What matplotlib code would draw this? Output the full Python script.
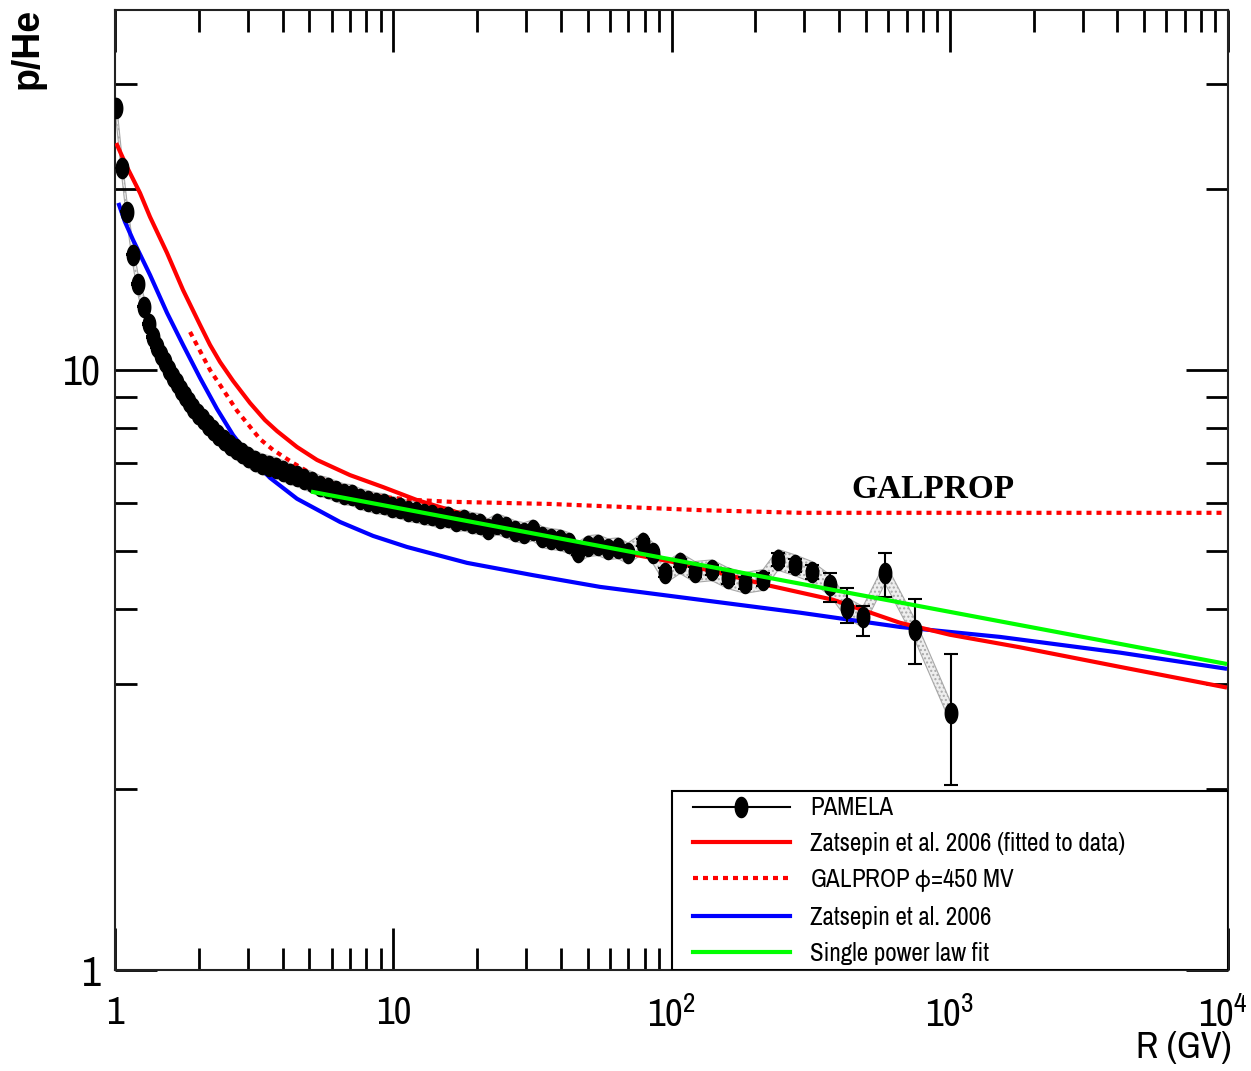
import numpy as np
import matplotlib
matplotlib.use("Agg")
import matplotlib.pyplot as plt
from matplotlib import font_manager as fm
from matplotlib.path import Path
from matplotlib.lines import Line2D
from matplotlib.patches import Rectangle
from matplotlib.transforms import ScaledTranslation
from matplotlib.ticker import FixedLocator, FixedFormatter, NullFormatter

# look for a narrow sans face, the original uses a squeezed Helvetica
narrow = [f.name for f in fm.fontManager.ttflist if 'Narrow' in f.name]
condensed = [f.name for f in fm.fontManager.ttflist if f.stretch == 'condensed']
if narrow:
    plt.rcParams['font.family'] = [narrow[0], 'DejaVu Sans']
    scale = 1.0
elif condensed:
    plt.rcParams['font.family'] = [condensed[0], 'DejaVu Sans']
    plt.rcParams['font.stretch'] = 'condensed'
    scale = 0.85
else:
    plt.rcParams['font.family'] = ['Liberation Sans', 'DejaVu Sans']
    scale = 0.8
plt.rcParams['mathtext.default'] = 'regular'

# PAMELA p/He ratio vs rigidity
pam_R = [1.008, 1.060, 1.104, 1.161, 1.209, 1.271, 1.325, 1.370, 1.416, 1.463,
         1.512, 1.564, 1.616, 1.671, 1.727, 1.785, 1.845, 1.907, 1.987, 2.072,
         2.159, 2.250, 2.345, 2.465, 2.590, 2.722, 2.860, 3.006, 3.185, 3.376,
         3.577, 3.790, 4.017, 4.256, 4.510, 4.778, 5.105, 5.455, 5.829, 6.226,
         6.653, 7.108, 7.595, 8.114, 8.670, 9.264, 9.897, 10.58, 11.30, 12.07,
         12.90, 13.78, 14.72, 15.74, 16.81, 17.96, 19.19, 20.50, 21.90, 23.60,
         25.42, 27.39, 29.51, 31.78, 34.24, 36.89, 39.75, 42.82, 46.13, 50.11,
         54.43, 59.14, 64.24, 69.79, 79.03, 85.82, 94.8, 107.3, 121.4, 139.8,
         159.6, 183.8, 213.3, 241.3, 277.8, 319.8, 371.2, 427.2, 487.8, 585.3,
         750.2, 1010.0]
pam_ratio = [27.34, 21.71, 18.34, 15.55, 13.91, 12.74, 11.93, 11.35, 10.92, 10.59,
             10.31, 10.00, 9.73, 9.51, 9.26, 9.05, 8.85, 8.65, 8.45, 8.29,
             8.10, 7.94, 7.79, 7.64, 7.50, 7.38, 7.27, 7.16, 7.05, 6.97,
             6.92, 6.87, 6.79, 6.71, 6.66, 6.58, 6.51, 6.41, 6.36, 6.28,
             6.21, 6.19, 6.10, 6.05, 6.00, 5.98, 5.91, 5.89, 5.82, 5.80,
             5.75, 5.73, 5.67, 5.69, 5.60, 5.62, 5.56, 5.54, 5.43, 5.54,
             5.47, 5.39, 5.35, 5.41, 5.27, 5.23, 5.21, 5.15, 4.97, 5.09,
             5.11, 5.03, 5.05, 4.95, 5.15, 4.95, 4.59, 4.77, 4.61, 4.64,
             4.50, 4.42, 4.47, 4.83, 4.73, 4.61, 4.38, 4.01, 3.88, 4.59,
             3.69, 2.68]
stat_lo = [0.03, 0.03, 0.03, 0.03, 0.03, 0.03, 0.03, 0.03, 0.03, 0.03,
           0.03, 0.03, 0.03, 0.03, 0.03, 0.03, 0.03, 0.03, 0.03, 0.03,
           0.03, 0.03, 0.03, 0.03, 0.03, 0.03, 0.03, 0.03, 0.03, 0.03,
           0.03, 0.03, 0.03, 0.03, 0.03, 0.03, 0.03, 0.03, 0.03, 0.03,
           0.04, 0.04, 0.04, 0.04, 0.04, 0.04, 0.04, 0.04, 0.04, 0.04,
           0.04, 0.04, 0.04, 0.04, 0.04, 0.04, 0.04, 0.04, 0.04, 0.04,
           0.05, 0.05, 0.05, 0.05, 0.05, 0.05, 0.05, 0.05, 0.05, 0.05,
           0.06, 0.06, 0.06, 0.07, 0.07, 0.07, 0.08, 0.08, 0.09, 0.09,
           0.10, 0.10, 0.11, 0.12, 0.12, 0.13, 0.27, 0.22, 0.28, 0.40,
           0.45, 0.65]
stat_hi = [0.03, 0.03, 0.03, 0.03, 0.03, 0.03, 0.03, 0.03, 0.03, 0.03,
           0.03, 0.03, 0.03, 0.03, 0.03, 0.03, 0.03, 0.03, 0.03, 0.03,
           0.03, 0.03, 0.03, 0.03, 0.03, 0.03, 0.03, 0.03, 0.03, 0.03,
           0.03, 0.03, 0.03, 0.03, 0.03, 0.03, 0.03, 0.03, 0.03, 0.03,
           0.04, 0.04, 0.04, 0.04, 0.04, 0.04, 0.04, 0.04, 0.04, 0.04,
           0.04, 0.04, 0.04, 0.04, 0.04, 0.04, 0.04, 0.04, 0.04, 0.04,
           0.05, 0.05, 0.05, 0.05, 0.05, 0.05, 0.05, 0.05, 0.05, 0.05,
           0.06, 0.06, 0.06, 0.07, 0.07, 0.07, 0.08, 0.08, 0.09, 0.09,
           0.10, 0.10, 0.11, 0.12, 0.12, 0.13, 0.21, 0.32, 0.16, 0.36,
           0.46, 0.68]
sys_frac = 0.04

# Zatsepin et al. 2006 (fitted to data)
zf_R = [1.017, 1.104, 1.230, 1.336, 1.538, 1.756, 2.021, 2.195, 2.385, 2.656,
        3.056, 3.460, 3.821, 4.510, 5.321, 6.99, 9.19, 12.17, 16.0, 21.0,
        36.6, 60.1, 100.4, 149.4, 220.3, 380.5, 662.5, 1002, 1788, 4091, 9752]
zf_ratio = [23.71, 21.79, 19.72, 17.99, 15.67, 13.59, 11.89, 11.01, 10.31, 9.59,
            8.81, 8.25, 7.91, 7.44, 7.08, 6.68, 6.38, 6.07, 5.84, 5.62,
            5.27, 5.01, 4.79, 4.59, 4.38, 4.14, 3.79, 3.62, 3.45, 3.20, 2.96]

# GALPROP phi=450 MV
gp_R = [1.861, 1.987, 2.195, 2.385, 2.745, 3.320, 3.697, 4.363, 5.321, 6.99,
        9.19, 12.17, 16.0, 36.6, 126.6, 289.6, 9752]
gp_ratio = [11.57, 10.92, 10.00, 9.44, 8.55, 7.67, 7.36, 7.00, 6.63, 6.31,
            6.14, 6.07, 6.03, 5.98, 5.84, 5.78, 5.78]

# Zatsepin et al. 2006
z_R = [1.034, 1.086, 1.161, 1.336, 1.538, 1.756, 2.021, 2.326, 2.656, 3.056,
       3.606, 4.510, 6.44, 8.46, 11.20, 18.41, 31.78, 55.34, 126.6, 289.6,
       662.5, 1516, 4091, 9752]
z_ratio = [18.84, 17.65, 16.47, 14.40, 12.45, 11.01, 9.70, 8.61, 7.79, 7.16,
           6.61, 6.10, 5.58, 5.29, 5.07, 4.77, 4.55, 4.35, 4.14, 3.94,
           3.73, 3.59, 3.38, 3.18]

# single power law fit (straight in log-log)
pl_R = [5.15, 9752]
pl_ratio = [6.26, 3.24]

tick_vals = [1, 10, 100, 1000, 10000]
tick_text = ['1', '10', r'$\mathregular{10^{2}}$', r'$\mathregular{10^{3}}$', r'$\mathregular{10^{4}}$']

fig = plt.figure(figsize=(12.51, 10.71), dpi=100)
ax = fig.add_axes([115/1251, 1-970/1071, 1113/1251, 960/1071])
ax.set_xscale('log')
ax.set_yscale('log')
ax.set_xlim(1, 1e4)
ax.set_ylim(1, 39.8)

R = np.array(pam_R)
y = np.array(pam_ratio)

# systematic band
ax.fill_between(R, y*(1-sys_frac), y*(1+sys_frac), facecolor='#eeeeee',
                edgecolor='#a8a8a8', hatch='....', linewidth=0.8, zorder=1)

l_zf, = ax.plot(zf_R, zf_ratio, color='#ff0000', lw=3, zorder=3,
                label='Zatsepin et al. 2006 (fitted to data)')
l_z, = ax.plot(z_R, z_ratio, color='#0000ff', lw=3, zorder=2.8,
               label='Zatsepin et al. 2006')
l_gp, = ax.plot(gp_R, gp_ratio, color='#ff0000', lw=3, ls=(0, (1.2, 1.2)), zorder=3,
                label=r'GALPROP $\mathregular{\phi}$=450 MV')

ax.errorbar(R, y, yerr=[stat_lo, stat_hi], fmt='none', ecolor='black',
            elinewidth=1.5, capsize=5, capthick=1.5, zorder=4)

t = np.linspace(0, 2*np.pi, 60)
ell = Path(np.column_stack([0.62*np.cos(t), np.sin(t)]), closed=True)
ax.plot(R, y, ls='none', marker=ell, ms=14.5, color='black', zorder=5)

l_pl, = ax.plot(pl_R, pl_ratio, color='#00ff00', lw=3, zorder=6,
                label='Single power law fit')

pam_handle = Line2D([], [], color='black', lw=1.5, marker=ell, ms=14.5,
                    markerfacecolor='black', label='PAMELA')

# legend box drawn by hand so the inner padding can follow the original
ax.add_patch(Rectangle((0.5005, 0.0), 0.4995, 0.1865, transform=ax.transAxes,
                       facecolor='white', edgecolor='black', lw=1.5, zorder=9))
fs = 18*scale
leg = ax.legend(handles=[pam_handle, l_zf, l_gp, l_z, l_pl],
                loc='center left', bbox_to_anchor=((693-115)/1113, (970-880.5)/960),
                borderaxespad=0, borderpad=0, fontsize=fs, frameon=False,
                handlelength=97/(fs*100/72), handletextpad=20/(fs*100/72),
                labelspacing=0.5/scale)
leg.set_zorder(10)

ax.text(871, 6.33, 'GALPROP', ha='center', va='center', fontsize=24,
        family='Liberation Serif', fontweight='bold', zorder=7)

# ROOT-style ticks
ax.xaxis.set_major_locator(FixedLocator(tick_vals))
ax.xaxis.set_major_formatter(FixedFormatter(tick_text))
ax.xaxis.set_minor_formatter(NullFormatter())
ax.yaxis.set_major_locator(FixedLocator([1, 10]))
ax.yaxis.set_major_formatter(FixedFormatter(['1', '10']))
ax.yaxis.set_minor_formatter(NullFormatter())
ax.tick_params(which='both', direction='in', top=True, right=True, width=2, color='black')
ax.tick_params(which='major', length=30)
ax.tick_params(which='minor', length=16)
ax.tick_params(axis='x', which='both', labelsize=28*scale, pad=19)
ax.tick_params(axis='y', which='both', labelsize=30*scale, pad=10)
for s in ax.spines.values():
    s.set_linewidth(1.5)
    s.set_color('#222222')

# keep the 10^4 label inside the canvas, as in the original
last = ax.xaxis.get_major_ticks()[-1].label1
last.set_transform(last.get_transform() + ScaledTranslation(-5/100, 0, fig.dpi_scale_trans))

fig.text(28/1251, 1-8/1071, 'p/He', rotation=90, ha='center', va='top',
         fontsize=27, fontweight='bold', family=['Liberation Sans', 'DejaVu Sans'],
         fontstretch='normal')
fig.text(1232/1251, 1-1048/1071, 'R (GV)', ha='right', va='center', fontsize=27*scale)

fig.savefig('out.png', dpi=100)
